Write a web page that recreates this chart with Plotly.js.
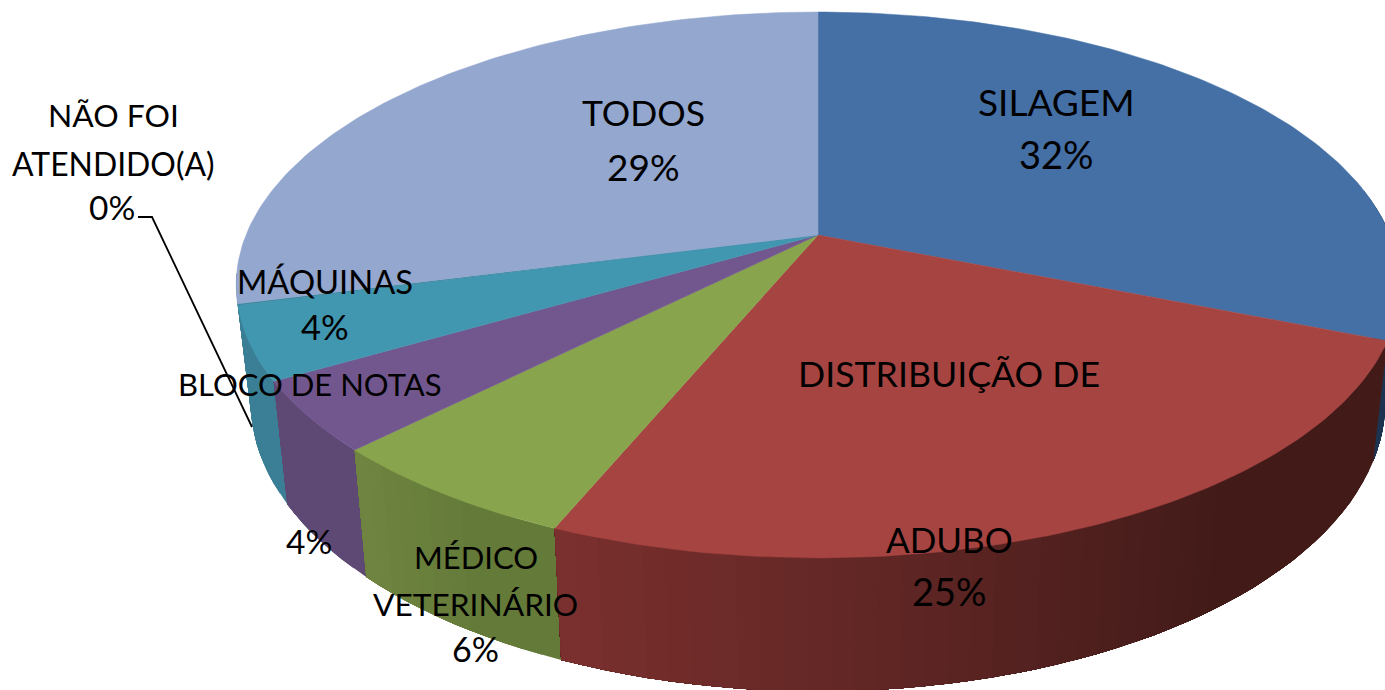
<!DOCTYPE html>
<html><head><meta charset="utf-8">
<script src="https://cdn.plot.ly/plotly-3.0.1.min.js"></script>
<style>html,body{margin:0;padding:0;background:#fff;overflow:hidden}#c{width:1385px;height:690px}</style>
</head><body><div id="c"></div>
<script>
// Data
const categories = ["SILAGEM","DISTRIBUIÇÃO DE ADUBO","MÉDICO VETERINÁRIO","BLOCO DE NOTAS","MÁQUINAS","NÃO FOI ATENDIDO(A)","TODOS"];
const shares = [31.1,25.15,6.2,4.15,4.3,0.1,29.0];   // slice sizes estimated from the drawn angles
const percentLabels = ["32%","25%","6%","4%","4%","0%","29%"];
const labelText = ["SILAGEM","32%","DISTRIBUIÇÃO DE","ADUBO","25%","MÉDICO","VETERINÁRIO","6%","BLOCO DE NOTAS","4%","MÁQUINAS","4%","NÃO FOI","ATENDIDO(A)","0%","TODOS","29%"];

// Styles and placement
const topColors = ["#4570a6","#a64442","#88a54e","#72578f","#4196b0","#3c8aa2","#93a7cf"];
const wallFrom = ["#1c3450","#421b19","#647a38","#5e4975","#3a7f95","#3a7f95","#6d7c99"];
const wallTo   = ["#1c3450","#7b302e","#708541","#5e4975","#3a7f95","#3a7f95","#6d7c99"];
const labelX = [1056,1056,949,949,949,476,475,475,310,309,325,325,113,113,112,643,643];
const labelY = [101.5,153.5,373.5,538.5,590.5,556.5,603.5,648.5,383.5,540.5,281.5,326.5,114.5,163.5,206.5,112.5,166.5];
const labelSize = [37,38,35.7,35,38,31,31.7,34,31,33.5,32.7,34.5,31.8,31.9,33.5,35.5,37];
const leaderX = [138,152,252], leaderY = [217,217,427];

// Perspective projection of the pie disc onto the hidden pixel axes
const CX=818,CY=235,A=572,B=263.8,K=0.183;
const topPt = t => { const s=Math.sin(t),c=Math.cos(t),w=1+K*c; return [CX+A*s/w, CY-B*c/w]; };
const botPt = t => { const p=topPt(t); return [CX+0.975*(p[0]-CX), 100+1.06*p[1]]; };
const rgb = h => [1,3,5].map(i=>parseInt(h.substr(i,2),16));
const mix = (a,b,f) => { const x=rgb(a),y=rgb(b); return 'rgb('+x.map((v,i)=>Math.round(v+(y[i]-v)*f)).join(',')+')'; };

const total = shares.reduce((a,b)=>a+b,0);
const traces = [];
let acc = 0;
const arcs = shares.map(v => { const a=acc/total*2*Math.PI; acc+=v; return [a,acc/total*2*Math.PI]; });

// side wall, only the part that faces the viewer; each band runs to the end of its slice so no seams show
const visFrom = 80*Math.PI/180, visTo = 262*Math.PI/180;
const wallOrder = [0,6,5,4,3,2,1];
wallOrder.forEach(i => {
  const a0=Math.max(arcs[i][0],visFrom), a1=Math.min(arcs[i][1],visTo);
  if (a1<=a0) return;
  const n=Math.max(2,Math.ceil((a1-a0)/(Math.PI/90)));
  for(let k=0;k<n;k++){
    const t0=a0+(a1-a0)*k/n;
    const f=Math.min(1,Math.max(0,((k+0.5)/n-0.35)/0.65));
    const col=mix(wallFrom[i],wallTo[i],f), xs=[],ys=[];
    const steps=n-k;
    for(let j=0;j<=steps;j++){const p=topPt(t0+(a1-t0)*j/steps);xs.push(p[0]);ys.push(p[1]);}
    for(let j=steps;j>=0;j--){const p=botPt(t0+(a1-t0)*j/steps);xs.push(p[0]);ys.push(p[1]);}
    xs.push(xs[0]);ys.push(ys[0]);
    traces.push({type:'scatter',mode:'lines',x:xs,y:ys,fill:'toself',fillcolor:col,line:{width:0},hoverinfo:'skip',showlegend:false});
  }
});
// top face
shares.forEach((v,i)=>{
  const xs=[CX],ys=[CY],n=Math.max(2,Math.ceil((arcs[i][1]-arcs[i][0])/(Math.PI/180)));
  for(let k=0;k<=n;k++){const p=topPt(arcs[i][0]+(arcs[i][1]-arcs[i][0])*k/n);xs.push(p[0]);ys.push(p[1]);}
  xs.push(CX);ys.push(CY);
  traces.push({type:'scatter',mode:'lines',x:xs,y:ys,fill:'toself',fillcolor:topColors[i],line:{color:topColors[i],width:0.5},name:categories[i],text:percentLabels[i],hoverinfo:'name+text',showlegend:false});
});
// leader line
traces.push({type:'scatter',mode:'lines',x:leaderX,y:leaderY,line:{color:'#000',width:1.8},hoverinfo:'skip',showlegend:false});

const layout = {
  width:1385,height:690,margin:{l:0,r:0,t:0,b:0},paper_bgcolor:'#fff',plot_bgcolor:'#fff',showlegend:false,
  xaxis:{range:[0,1385],visible:false,fixedrange:true},
  yaxis:{range:[690,0],visible:false,fixedrange:true},
  annotations:labelText.map((s,i)=>({xref:'x',yref:'y',x:labelX[i],y:labelY[i],text:s,showarrow:false,xanchor:'center',yanchor:'middle',font:{family:'Lato, "Open Sans", sans-serif',size:labelSize[i],color:'#000'}}))
};
Plotly.newPlot('c',traces,layout,{displayModeBar:false,staticPlot:true});
</script></body></html>
